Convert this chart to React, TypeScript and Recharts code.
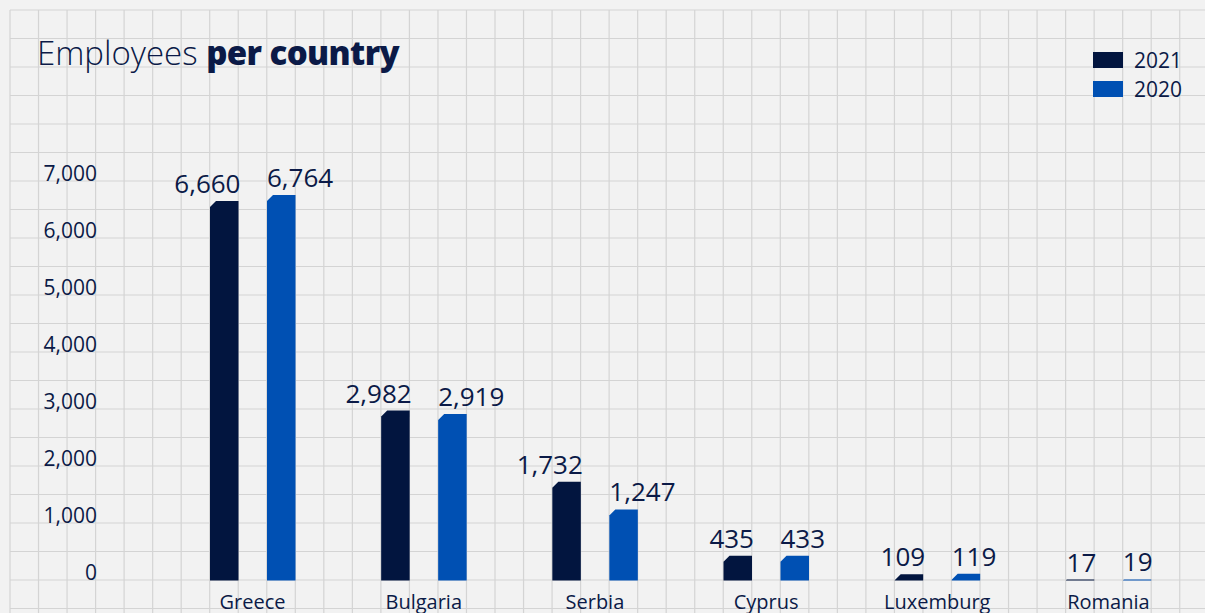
import { Bar, BarChart, LabelList, Legend, XAxis, YAxis } from 'recharts';

const countries = ['Greece', 'Bulgaria', 'Serbia', 'Cyprus', 'Luxemburg', 'Romania'];
const employees2021 = [6660, 2982, 1732, 435, 109, 17];
const employees2020 = [6764, 2919, 1247, 433, 119, 19];
const yTicks = [0, 1000, 2000, 3000, 4000, 5000, 6000, 7000];

const data = countries.map((country, i) => ({
  country,
  y2021: employees2021[i],
  y2020: employees2020[i],
}));

const NAVY = '#0b1a47';
const DARK = '#02153f';
const BLUE = '#0050b3';
const FONT = '"Open Sans", Lato, sans-serif';

const WIDTH = 1205;
const HEIGHT = 613;
const CELL_X = 28.53;
const CELL_Y = 28.5;

const fmt = (v: number) => v.toLocaleString('en-US');

/** Bar with the top-left corner cut off diagonally. */
function ChamferBar(props: any) {
  const { x, y, width, height, fill } = props;
  if (!height || height <= 0) return null;
  const c = Math.min(6, height);
  const d = `M${x},${y + c} L${x + c},${y} L${x + width},${y} L${x + width},${y + height} L${x},${y + height} Z`;
  return <path d={d} fill={fill} />;
}

// left series labels hug the bar's right edge, right series hug the left edge
const valueLabel = (align: 'end' | 'start') => (props: any) => {
  const box = props.viewBox && props.viewBox.width != null ? props.viewBox : props;
  const { x, y, width } = box;
  const tx = align === 'end' ? x + width + 2 : x;
  return (
    <text x={tx} y={y - 8} textAnchor={align} fill={NAVY} fontSize={26} fontFamily={FONT}>
      {fmt(Number(props.value))}
    </text>
  );
};

function YTick({ x, y, payload }: any) {
  return (
    <text x={x} y={y - 1} textAnchor="end" fill={NAVY} fontSize={21} fontFamily={FONT}>
      {fmt(payload.value)}
    </text>
  );
}

function XTick({ x, y, payload }: any) {
  return (
    <text x={x} y={y} dy={20} textAnchor="middle" fill={NAVY} fontSize={20} fontFamily={FONT}>
      {payload.value}
    </text>
  );
}

function LegendBox() {
  const items = [
    { label: '2021', color: DARK },
    { label: '2020', color: BLUE },
  ];
  return (
    <div style={{ fontFamily: FONT }}>
      {items.map((it) => (
        <div key={it.label} style={{ display: 'flex', alignItems: 'center', height: 29 }}>
          <span style={{ width: 30, height: 16, background: it.color, display: 'inline-block' }} />
          <span style={{ marginLeft: 11, fontSize: 21, color: NAVY, lineHeight: '20px' }}>{it.label}</span>
        </div>
      ))}
    </div>
  );
}

function GridBackground() {
  const cols = Array.from({ length: Math.ceil((WIDTH - 10) / CELL_X) + 1 }, (_, i) => 10 + i * CELL_X);
  const rows = Array.from({ length: Math.ceil((HEIGHT - 10) / CELL_Y) + 1 }, (_, i) => 10 + i * CELL_Y);
  return (
    <svg width={WIDTH} height={HEIGHT} style={{ position: 'absolute', left: 0, top: 0 }}>
      {cols.map((cx) => (
        <line key={`c${cx}`} x1={cx} x2={cx} y1={10} y2={HEIGHT} stroke="#d4d4d4" strokeWidth={1.2} />
      ))}
      {rows.map((ry) => (
        <line key={`r${ry}`} x1={10} x2={WIDTH} y1={ry} y2={ry} stroke="#d4d4d4" strokeWidth={1.2} />
      ))}
    </svg>
  );
}

export default function App() {
  return (
    <div
      style={{
        position: 'absolute',
        left: 0,
        top: 0,
        width: WIDTH,
        height: HEIGHT,
        overflow: 'hidden',
        background: '#f2f2f2',
      }}
    >
      <GridBackground />
      <div
        style={{
          position: 'absolute',
          left: 37,
          top: 33,
          fontFamily: FONT,
          fontSize: 33,
          color: NAVY,
          lineHeight: '40px',
          whiteSpace: 'nowrap',
        }}
      >
        <span style={{ fontWeight: 300 }}>Employees </span>
        <span style={{ fontWeight: 800, letterSpacing: -0.6 }}>per country</span>
      </div>
      <div style={{ position: 'absolute', left: 0, top: 0 }}>
        <BarChart
          width={WIDTH}
          height={640}
          data={data}
          margin={{ top: 181.5, right: 11, left: 67, bottom: 19.5 }}
          barSize={28.5}
          barGap={28.5}
        >
          <XAxis
            dataKey="country"
            height={40}
            axisLine={false}
            tickLine={false}
            interval={0}
            tick={<XTick />}
          />
          <YAxis
            width={100}
            domain={[0, 7000]}
            ticks={yTicks}
            axisLine={false}
            tickLine={false}
            tickMargin={64}
            tick={<YTick />}
          />
          <Legend
            layout="horizontal"
            verticalAlign="middle"
            align="center"
            content={() => <LegendBox />}
            wrapperStyle={{ position: 'absolute', left: 1093, top: 45, width: 110 }}
          />
          <Bar dataKey="y2021" name="2021" fill={DARK} shape={<ChamferBar />} isAnimationActive={false}>
            <LabelList dataKey="y2021" content={valueLabel('end')} />
          </Bar>
          <Bar dataKey="y2020" name="2020" fill={BLUE} shape={<ChamferBar />} isAnimationActive={false}>
            <LabelList dataKey="y2020" content={valueLabel('start')} />
          </Bar>
        </BarChart>
      </div>
    </div>
  );
}
